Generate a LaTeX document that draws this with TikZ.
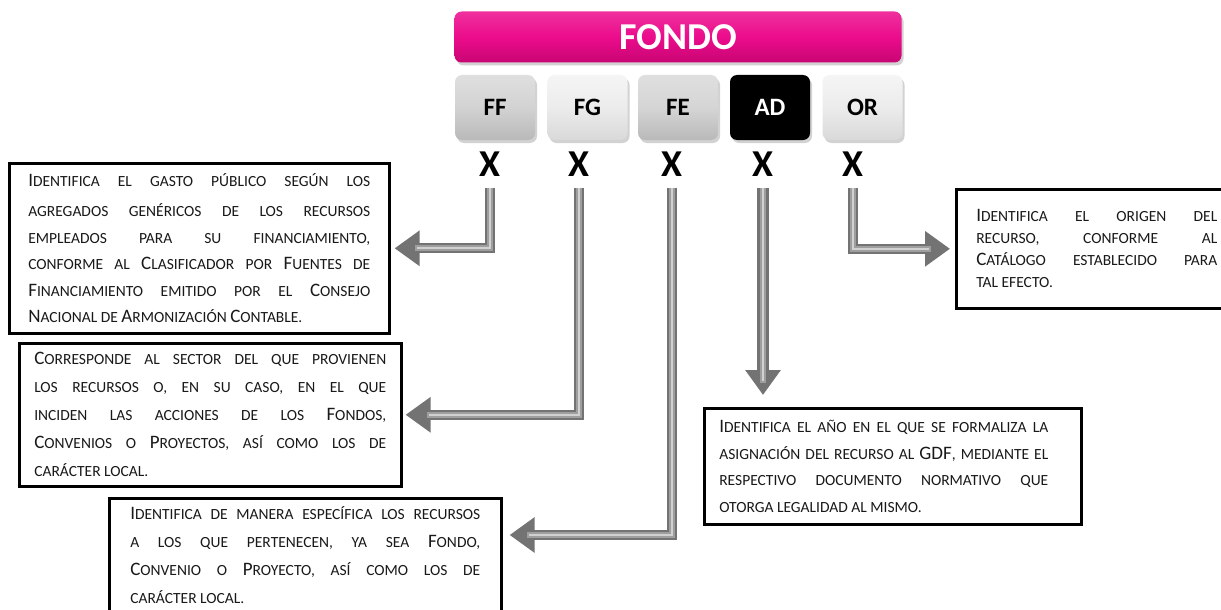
\documentclass[tikz,border=0pt]{standalone}
\usepackage{fontspec}
\setmainfont{Carlito}
\usetikzlibrary{arrows.meta,shadows}
\definecolor{fondo}{RGB}{236,12,140}
\definecolor{fondodark}{RGB}{200,5,115}
\definecolor{txt}{RGB}{25,25,25}
\newcommand{\C}[1]{{\fontsize{19}{\baselineskip}\selectfont #1}}
\tikzset{
  desc/.style={draw=black, line width=2.6pt, fill=white, anchor=north west,
    align=justify, inner ysep=4pt, text=txt,
    font={\fontsize{15.5}{#1}\selectfont\hyphenpenalty=10000\exhyphenpenalty=10000}},
  desc/.default=28,
  btn/.style={rounded corners=7pt, minimum width=80pt, minimum height=65pt,
    font=\fontsize{25}{25}\selectfont\bfseries, drop shadow={shadow xshift=2pt, shadow yshift=-3pt, opacity=0.35}},
  xmark/.style={inner sep=0pt, font=\fontsize{38}{38}\selectfont\bfseries},
  conn/.style={line width=10pt, draw=black!55, line join=miter,
    -{Triangle[length=25pt,width=34pt]}, shorten <=11pt,
    postaction={draw=black!38, line width=6pt, -, shorten >=24pt},
    postaction={draw=black!18, line width=2pt, -, shorten >=26pt}},
}
\begin{document}
\begin{tikzpicture}[x=1pt,y=-1pt]
\clip (0,0) rectangle (1221,610);
\fill[white] (0,0) rectangle (1221,610);
% header
\node[rounded corners=7pt, minimum width=447pt, minimum height=51pt,
  top color=fondo!85!white, bottom color=fondodark, middle color=fondo,
  drop shadow={shadow xshift=2pt, shadow yshift=-3pt, opacity=0.35},
  text=white, font=\fontsize{38}{38}\selectfont\bfseries] (fondo) at (678,37) {FONDO};
\node[btn, top color=gray!25, bottom color=gray!55, middle color=gray!35] (ff) at (495,107.5) {FF};
\node[btn, top color=gray!8, bottom color=gray!30, middle color=gray!15] (fg) at (587.5,107.5) {FG};
\node[btn, top color=gray!25, bottom color=gray!55, middle color=gray!33] (fe) at (678,107.5) {FE};
\node[btn, fill=black, text=white] (ad) at (770,107.5) {AD};
\node[btn, top color=gray!8, bottom color=gray!30, middle color=gray!15] (or) at (862.5,107.5) {OR};
% X marks
\node[xmark] (xff) at (490,164) {X};
\node[xmark] (xfg) at (579,164) {X};
\node[xmark] (xfe) at (672,164) {X};
\node[xmark] (xad) at (763,164) {X};
\node[xmark] (xor) at (853,164) {X};
% description boxes
\node[desc=26.5, text width=342pt, inner xsep=19pt, minimum height=170pt] (b1) at (8,162)
  {\vspace*{4pt}\C{I}DENTIFICA EL GASTO PÚBLICO SEGÚN LOS\linebreak
   AGREGADOS GENÉRICOS DE LOS RECURSOS\linebreak
   EMPLEADOS PARA SU FINANCIAMIENTO,\linebreak
   CONFORME AL \C{C}LASIFICADOR POR \C{F}UENTES DE\linebreak
   \C{F}INANCIAMIENTO EMITIDO POR EL \C{C}ONSEJO\linebreak
   \C{N}ACIONAL DE \C{A}RMONIZACIÓN \C{C}ONTABLE.};
\node[desc, text width=352pt, inner xsep=15pt, minimum height=143pt] (b2) at (18,342)
  {\C{C}ORRESPONDE AL SECTOR DEL QUE PROVIENEN\linebreak
   LOS RECURSOS O, EN SU CASO, EN EL QUE\linebreak
   INCIDEN LAS ACCIONES DE LOS \C{F}ONDOS,\linebreak
   \C{C}ONVENIOS O \C{P}ROYECTOS, ASÍ COMO LOS DE\linebreak
   CARÁCTER LOCAL.};
\node[desc, text width=350pt, inner xsep=21pt, minimum height=114pt] (b3) at (108,497)
  {\C{I}DENTIFICA DE MANERA ESPECÍFICA LOS RECURSOS\linebreak
   A LOS QUE PERTENECEN, YA SEA \C{F}ONDO,\linebreak
   \C{C}ONVENIO O \C{P}ROYECTO, ASÍ COMO LOS DE\linebreak
   CARÁCTER LOCAL.};
\node[desc=26.7, align=left, inner xsep=15pt, minimum height=116pt] (b4) at (703,407)
  {\parbox{329pt}{\fontsize{15.5}{26.7}\selectfont\hyphenpenalty=10000\exhyphenpenalty=10000
   \C{I}DENTIFICA EL AÑO EN EL QUE SE FORMALIZA LA\linebreak
   ASIGNACIÓN DEL RECURSO AL \C{GDF}, MEDIANTE EL\linebreak
   RESPECTIVO DOCUMENTO NORMATIVO QUE\linebreak
   OTORGA LEGALIDAD AL MISMO.}\hspace*{18pt}};
\node[desc=22, text width=241pt, inner xsep=20pt, minimum height=119pt] (b5) at (955,188)
  {\C{I}DENTIFICA EL ORIGEN DEL\linebreak
   RECURSO, CONFORME AL\linebreak
   \C{C}ATÁLOGO ESTABLECIDO PARA\linebreak
   TAL EFECTO.};
% connectors
\draw[conn, shorten >=4pt] (xff.south) |- (b1.east);
\draw[conn, shorten >=3pt] (xfg.south) |- (b2.east);
\draw[conn, shorten >=7pt] (xfe.south) |- ([yshift=-38pt]b3.north east);
\draw[conn, line width=12pt, shorten >=12pt] (xad.south) -- (xad.south |- b4.north);
\draw[conn, shorten >=5pt] (xor.south) |- (b5.west);
\end{tikzpicture}
\end{document}
